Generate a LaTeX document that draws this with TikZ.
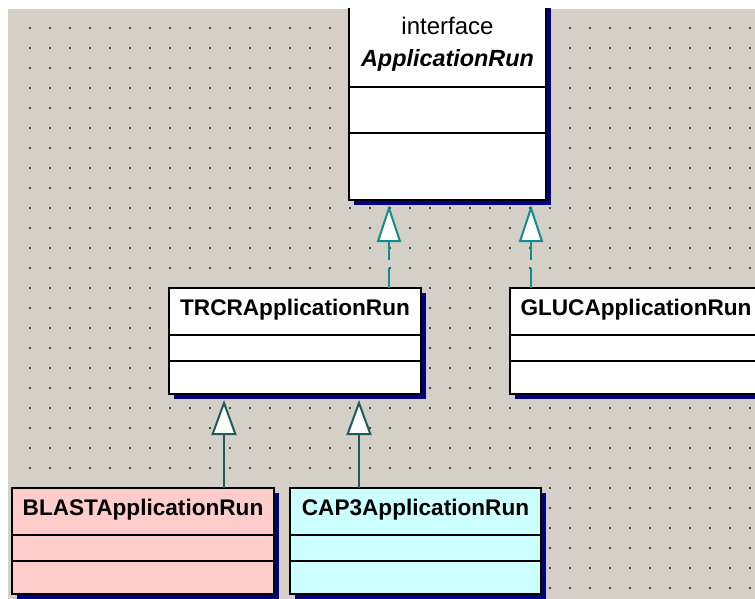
\documentclass[tikz,border=0pt]{standalone}
\usepackage{fontspec}
\setmainfont{Liberation Sans}
\usetikzlibrary{arrows.meta,shadows}

\definecolor{canvasgray}{RGB}{212,208,200}
\definecolor{griddot}{RGB}{70,70,70}
\definecolor{shadowblue}{RGB}{0,0,128}
\definecolor{implteal}{RGB}{16,140,140}
\definecolor{inhteal}{RGB}{30,90,90}
\definecolor{pinkfill}{RGB}{255,204,204}
\definecolor{cyanfill}{RGB}{204,255,255}

\tikzset{
  classbox/.style={draw=black, line width=1.5pt, fill=white, anchor=north west,
    inner sep=0pt, outer sep=0pt,
    general shadow={fill=shadowblue, shadow xshift=5pt, shadow yshift=-5pt}},
  divider/.style={draw=black, line width=1.2pt},
  classname/.style={anchor=base, inner sep=0pt, font=\fontsize{22.6}{27}\selectfont\bfseries},
  stereo/.style={anchor=base, inner sep=0pt, font=\fontsize{24}{28}\selectfont},
  ifacename/.style={anchor=base, inner sep=0pt, font=\fontsize{23.4}{28}\selectfont\bfseries\itshape},
  realize/.style={draw=implteal, line width=2pt, dash pattern=on 20pt off 8pt,
    -{Triangle[length=37pt, width=24pt, fill=white]}},
  inherit/.style={draw=inhteal, line width=2pt,
    -{Triangle[length=35pt, width=25pt, fill=white]}}
}

\begin{document}
\begin{tikzpicture}[x=1pt, y=-1pt]
  \useasboundingbox (0,0) rectangle (755,599);
  \fill[white] (0,0) rectangle (755,599);
  \clip (8,9) rectangle (755,599);
  \fill[canvasgray] (8,9) rectangle (755,599);

  % dotted grid of the drawing canvas
  \foreach \i in {1,...,37}
    \foreach \j in {1,...,29}
      \fill[griddot] ({10+20*\i-1},{8+20*\j-1}) rectangle ++(2,2);

  % interface ApplicationRun
  \node[classbox, minimum width=197pt, minimum height=200pt] (iface) at (349,0) {};
  \node[stereo] (iface-st) at ([yshift=-35pt]iface.north) {interface};
  \node[ifacename] (iface-name) at ([yshift=-67pt]iface.north) {ApplicationRun};
  \draw[divider] ([yshift=-87pt]iface.north west) -- ([yshift=-87pt]iface.north east);
  \draw[divider] ([yshift=-133pt]iface.north west) -- ([yshift=-133pt]iface.north east);

  % TRCRApplicationRun
  \node[classbox, minimum width=252pt, minimum height=106pt] (trcr) at (169,288) {};
  \node[classname] (trcr-name) at ([yshift=-27pt]trcr.north) {TRCRApplicationRun};
  \draw[divider] ([yshift=-47pt]trcr.north west) -- ([yshift=-47pt]trcr.north east);
  \draw[divider] ([yshift=-73pt]trcr.north west) -- ([yshift=-73pt]trcr.north east);

  % GLUCApplicationRun
  \node[classbox, minimum width=252pt, minimum height=106pt] (gluc) at (510,288) {};
  \node[classname] (gluc-name) at ([yshift=-27pt]gluc.north) {GLUCApplicationRun};
  \draw[divider] ([yshift=-47pt]gluc.north west) -- ([yshift=-47pt]gluc.north east);
  \draw[divider] ([yshift=-73pt]gluc.north west) -- ([yshift=-73pt]gluc.north east);

  % BLASTApplicationRun
  \node[classbox, fill=pinkfill, minimum width=262pt, minimum height=106pt] (blast) at (12,488) {};
  \node[classname] (blast-name) at ([yshift=-27pt]blast.north) {BLASTApplicationRun};
  \draw[divider] ([yshift=-47pt]blast.north west) -- ([yshift=-47pt]blast.north east);
  \draw[divider] ([yshift=-73pt]blast.north west) -- ([yshift=-73pt]blast.north east);

  % CAP3ApplicationRun
  \node[classbox, fill=cyanfill, minimum width=251pt, minimum height=106pt] (cap3) at (290,488) {};
  \node[classname] (cap3-name) at ([yshift=-27pt]cap3.north) {CAP3ApplicationRun};
  \draw[divider] ([yshift=-47pt]cap3.north west) -- ([yshift=-47pt]cap3.north east);
  \draw[divider] ([yshift=-73pt]cap3.north west) -- ([yshift=-73pt]cap3.north east);

  % connector end points on the shadowed lower edges
  \coordinate (iface-edge) at ([yshift=-5pt]iface.south);
  \coordinate (trcr-edge) at ([yshift=-6pt]trcr.south);
  \coordinate (trcr-up) at ([xshift=220pt]trcr.north west);
  \coordinate (gluc-up) at ([xshift=21pt]gluc.north west);
  \coordinate (blast-up) at ([xshift=212pt]blast.north west);
  \coordinate (cap3-up) at ([xshift=69pt]cap3.north west);

  % interface realizations
  \draw[realize] (trcr-up) -- (trcr-up |- iface-edge);
  \draw[realize] (gluc-up) -- (gluc-up |- iface-edge);

  % generalizations
  \draw[inherit] (blast-up) -- (blast-up |- trcr-edge);
  \draw[inherit] (cap3-up) -- (cap3-up |- trcr-edge);
\end{tikzpicture}
\end{document}
